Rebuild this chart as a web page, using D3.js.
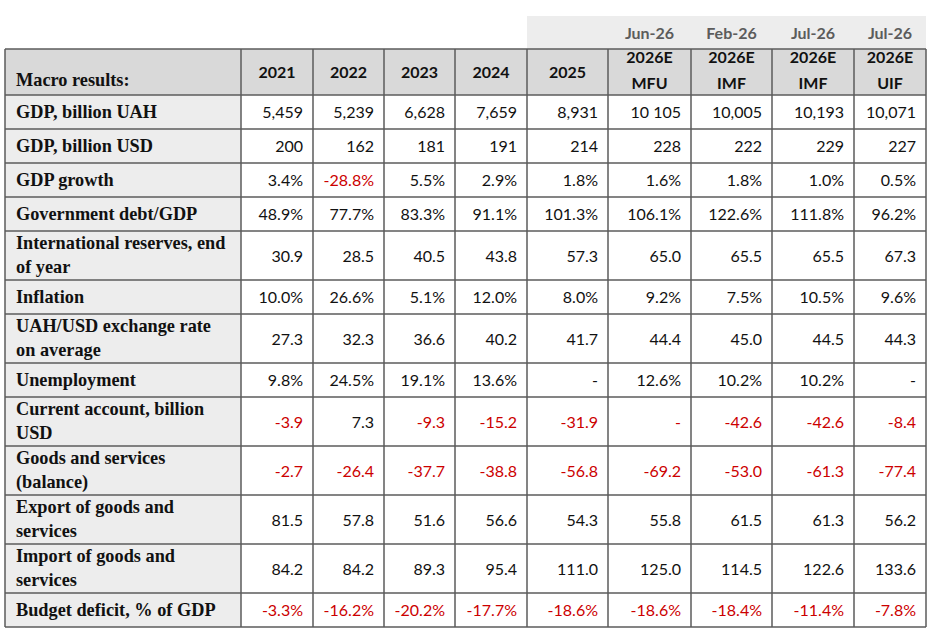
<!DOCTYPE html>
<html lang="en">
<head>
    <meta charset="UTF-8">
    <title>Macro results</title>
    <script src="https://d3js.org/d3.v7.min.js"></script>
    <style>
        body {
            margin: 0;
            background: #fff;
        }

        .label {
            font-family: "Liberation Serif", "Times New Roman", serif;
            font-weight: bold;
            font-size: 18.3px;
            fill: #111;
        }

        .num {
            font-family: Lato, "Open Sans", sans-serif;
            font-size: 16px;
            fill: #111;
        }

        .head {
            font-family: Lato, "Open Sans", sans-serif;
            font-weight: bold;
            font-size: 16px;
            fill: #111;
        }

        .band {
            font-family: Lato, "Open Sans", sans-serif;
            font-weight: bold;
            font-size: 16px;
            fill: #5c5c5c;
        }

        .neg {
            fill: #cc0000;
        }
    </style>
</head>
<body>
    <div id="chart"></div>
    <script>
        // table content
        const corner = "Macro results:";
        const columns = ["2021", "2022", "2023", "2024", "2025", "2026E\nMFU", "2026E\nIMF", "2026E\nIMF", "2026E\nUIF"];
        const forecastDates = ["", "", "", "", "", "Jun-26", "Feb-26", "Jul-26", "Jul-26"];
        const indicators = [
            "GDP, billion UAH",
            "GDP, billion USD",
            "GDP growth",
            "Government debt/GDP",
            "International reserves, end of year",
            "Inflation",
            "UAH/USD exchange rate on average",
            "Unemployment",
            "Current account, billion USD",
            "Goods and services (balance)",
            "Export of goods and services",
            "Import of goods and services",
            "Budget deficit, % of GDP"
        ];

        const gdpUah = ["5,459", "5,239", "6,628", "7,659", "8,931", "10 105", "10,005", "10,193", "10,071"];
        const gdpUsd = ["200", "162", "181", "191", "214", "228", "222", "229", "227"];
        const gdpGrowth = ["3.4%", "-28.8%", "5.5%", "2.9%", "1.8%", "1.6%", "1.8%", "1.0%", "0.5%"];
        const debtGdp = ["48.9%", "77.7%", "83.3%", "91.1%", "101.3%", "106.1%", "122.6%", "111.8%", "96.2%"];
        const reserves = ["30.9", "28.5", "40.5", "43.8", "57.3", "65.0", "65.5", "65.5", "67.3"];
        const inflation = ["10.0%", "26.6%", "5.1%", "12.0%", "8.0%", "9.2%", "7.5%", "10.5%", "9.6%"];
        const exchangeRate = ["27.3", "32.3", "36.6", "40.2", "41.7", "44.4", "45.0", "44.5", "44.3"];
        const unemployment = ["9.8%", "24.5%", "19.1%", "13.6%", "-", "12.6%", "10.2%", "10.2%", "-"];
        const currentAccount = ["-3.9", "7.3", "-9.3", "-15.2", "-31.9", "-", "-42.6", "-42.6", "-8.4"];
        const goodsBalance = ["-2.7", "-26.4", "-37.7", "-38.8", "-56.8", "-69.2", "-53.0", "-61.3", "-77.4"];
        const exportsGs = ["81.5", "57.8", "51.6", "56.6", "54.3", "55.8", "61.5", "61.3", "56.2"];
        const importsGs = ["84.2", "84.2", "89.3", "95.4", "111.0", "125.0", "114.5", "122.6", "133.6"];
        const budgetDeficit = ["-3.3%", "-16.2%", "-20.2%", "-17.7%", "-18.6%", "-18.6%", "-18.4%", "-11.4%", "-7.8%"];

        const values = [gdpUah, gdpUsd, gdpGrowth, debtGdp, reserves, inflation, exchangeRate,
            unemployment, currentAccount, goodsBalance, exportsGs, importsGs, budgetDeficit];

        // layout
        const width = 931, height = 630;
        const tableLeft = 5, tableTop = 49, bandTop = 16;
        const labelWidth = 236;
        const colWidths = [72, 71, 71, 72, 81, 83, 81, 82, 72];
        const headHeight = 46;
        const lineGap = 24;
        const borderColor = "#5b5b5b";

        const svg = d3.select("#chart")
            .append("svg")
            .attr("width", width)
            .attr("height", height);

        // wrap labels to fit the first column
        const measure = svg.append("text").attr("class", "label").attr("visibility", "hidden");
        const wrap = (str, maxW) => {
            const words = str.split(" ");
            const lines = [];
            let cur = "";
            words.forEach(w => {
                const test = cur ? cur + " " + w : w;
                measure.text(test);
                if (cur && measure.node().getComputedTextLength() > maxW) {
                    lines.push(cur);
                    cur = w;
                } else {
                    cur = test;
                }
            });
            lines.push(cur);
            return lines;
        };
        const labelLines = indicators.map(d => wrap(d, 218));
        measure.remove();

        const rowHeights = labelLines.map(l => l.length > 1 ? 49 : 34);

        // x positions from column widths
        const colEdges = [tableLeft, tableLeft + labelWidth, ...colWidths.map((w, i) => tableLeft + labelWidth + d3.sum(colWidths.slice(0, i + 1)))];
        const x = d3.scaleOrdinal().domain(d3.range(columns.length)).range(colEdges.slice(1, -1));
        const xEnd = d3.scaleOrdinal().domain(d3.range(columns.length)).range(colEdges.slice(2));

        const rowEdges = [tableTop + headHeight, ...rowHeights.map((h, i) => tableTop + headHeight + d3.sum(rowHeights.slice(0, i + 1)))];
        const y = d3.scaleOrdinal().domain(d3.range(indicators.length)).range(rowEdges.slice(0, -1));
        const rowH = d3.scaleOrdinal().domain(d3.range(indicators.length)).range(rowHeights);
        const tableRight = colEdges[colEdges.length - 1];
        const tableBottom = rowEdges[rowEdges.length - 1];

        // forecast date band
        const firstBand = forecastDates.findIndex(d => d !== "") - 1;
        svg.append("rect")
            .attr("x", x(firstBand))
            .attr("y", bandTop)
            .attr("width", tableRight - x(firstBand))
            .attr("height", tableTop - bandTop)
            .attr("fill", "#ededed");

        svg.selectAll(".band")
            .data(forecastDates)
            .enter()
            .append("text")
            .attr("class", "band")
            .attr("x", (d, i) => (x(i) + xEnd(i)) / 2)
            .attr("y", 39)
            .attr("text-anchor", "middle")
            .text(d => d);

        // header + label column backgrounds
        svg.append("rect")
            .attr("x", tableLeft).attr("y", tableTop)
            .attr("width", tableRight - tableLeft).attr("height", headHeight)
            .attr("fill", "#d9d9d9");
        svg.append("rect")
            .attr("x", tableLeft).attr("y", tableTop + headHeight)
            .attr("width", labelWidth).attr("height", tableBottom - tableTop - headHeight)
            .attr("fill", "#ededed");

        // header text
        svg.append("text")
            .attr("class", "label")
            .attr("x", tableLeft + 11)
            .attr("y", tableTop + 37)
            .text(corner);

        const headText = svg.selectAll(".head")
            .data(columns)
            .enter()
            .append("text")
            .attr("class", "head")
            .attr("text-anchor", "middle")
            .attr("x", (d, i) => (x(i) + xEnd(i)) / 2)
            .attr("y", tableTop + headHeight / 2 + 6);
        headText.each(function (d, i) {
            const parts = d.split("\n");
            const t = d3.select(this);
            if (parts.length > 1) t.attr("y", tableTop + 14);
            parts.forEach((p, k) => {
                t.append("tspan")
                    .attr("x", (x(i) + xEnd(i)) / 2)
                    .attr("dy", k === 0 ? 0 : 26)
                    .text(p);
            });
        });

        // row labels
        const rows = svg.selectAll(".row")
            .data(indicators)
            .enter()
            .append("g")
            .attr("class", "row")
            .attr("transform", (d, i) => `translate(0,${y(i)})`);

        rows.append("text")
            .attr("class", "label")
            .attr("y", (d, i) => rowH(i) / 2 + 6 - (labelLines[i].length - 1) * lineGap / 2 - (labelLines[i].length > 1 ? 1 : 0))
            .each(function (d, i) {
                labelLines[i].forEach((ln, k) => {
                    d3.select(this).append("tspan")
                        .attr("x", tableLeft + 11)
                        .attr("dy", k === 0 ? 0 : lineGap)
                        .text(ln);
                });
            });

        // values
        rows.each(function (d, i) {
            const rowVals = values[i];
            const hasNeg = rowVals.some(v => v.length > 1 && v[0] === "-");
            d3.select(this).selectAll(".num")
                .data(rowVals)
                .enter()
                .append("text")
                .attr("class", v => (v.length > 1 && v[0] === "-") || (v === "-" && hasNeg) ? "num neg" : "num")
                .attr("x", (v, j) => xEnd(j) - 10)
                .attr("y", rowH(i) / 2 + 6)
                .attr("text-anchor", "end")
                .text(v => v);
        });

        // grid lines
        const grid = svg.append("g")
            .attr("stroke", borderColor)
            .attr("stroke-width", 1.5)
            .attr("fill", "none");

        grid.selectAll(".h")
            .data([tableTop, ...rowEdges])
            .enter()
            .append("line")
            .attr("x1", tableLeft).attr("x2", tableRight)
            .attr("y1", d => d).attr("y2", d => d);

        grid.selectAll(".v")
            .data(colEdges)
            .enter()
            .append("line")
            .attr("x1", d => d).attr("x2", d => d)
            .attr("y1", tableTop).attr("y2", tableBottom);
    </script>
</body>
</html>
